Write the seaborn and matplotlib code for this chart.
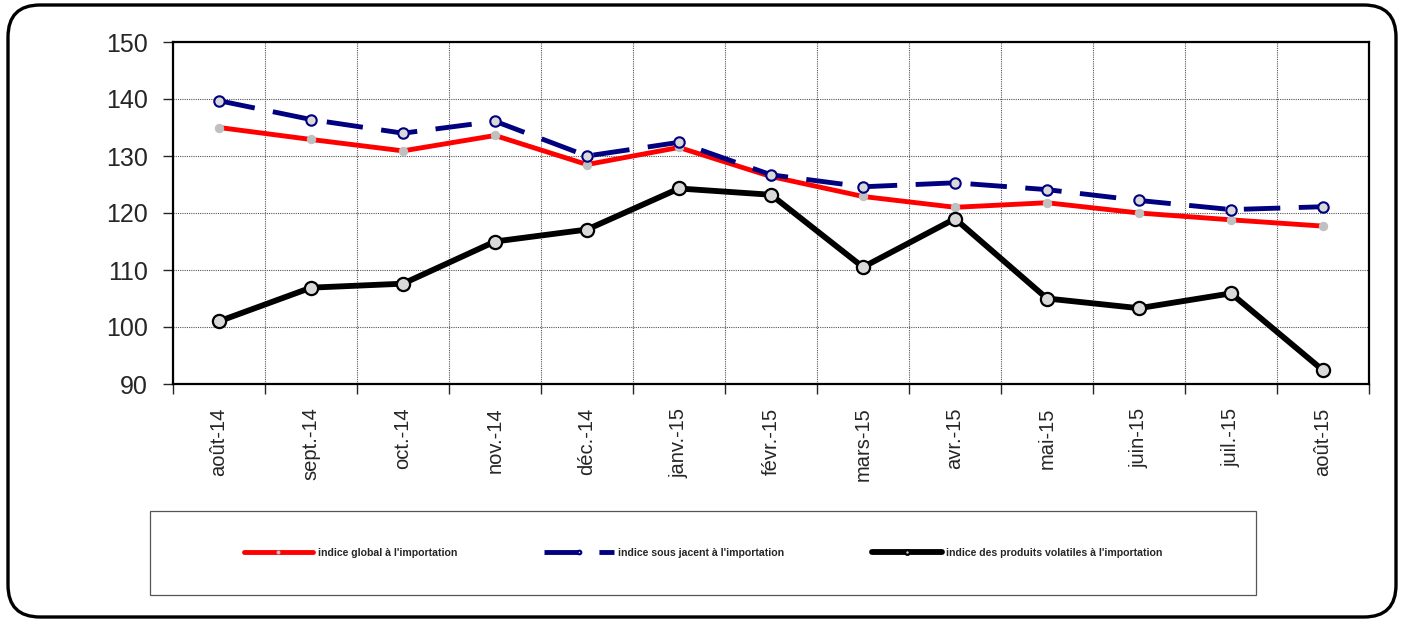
import numpy as np
import pandas as pd
import seaborn as sns
import matplotlib.pyplot as plt
from matplotlib.patches import FancyBboxPatch, Rectangle

# Data
months = ["août-14", "sept.-14", "oct.-14", "nov.-14", "déc.-14", "janv.-15", "févr.-15",
          "mars-15", "avr.-15", "mai-15", "juin-15", "juil.-15", "août-15"]
indice_global = [135.0, 132.9, 130.9, 133.6, 128.5, 131.5, 126.4, 122.9, 121.0, 121.8, 120.0, 118.8, 117.7]
indice_sous_jacent = [139.7, 136.4, 134.0, 136.1, 130.0, 132.4, 126.7, 124.6, 125.3, 124.1, 122.2, 120.6, 121.1]
indice_volatiles = [101.0, 106.9, 107.6, 115.0, 117.1, 124.3, 123.2, 110.5, 119.0, 105.0, 103.3, 105.9, 92.4]

labels = ["indice global à l'importation",
          "indice sous jacent à l'importation",
          "indice des produits volatiles à l'importation"]

df = pd.DataFrame({"x": np.arange(len(months)),
                   "global": indice_global,
                   "sous": indice_sous_jacent,
                   "vol": indice_volatiles})

sns.set_style("white")
plt.rcParams['font.family'] = ['Liberation Sans', 'DejaVu Sans']

W, H = 1403, 623
fig = plt.figure(figsize=(W / 100, H / 100), dpi=100)

# outer rounded frame
bg = fig.add_axes([0, 0, 1, 1], zorder=0)
bg.set_xlim(0, W)
bg.set_ylim(H, 0)
bg.axis("off")
bg.add_patch(FancyBboxPatch((8, 5), 1388, 612, boxstyle="round,pad=0,rounding_size=32",
                            fill=False, edgecolor="black", linewidth=2.4))
# legend box
bg.add_patch(Rectangle((150, 511), 1106, 84, fill=False, edgecolor="#555555", linewidth=0.9))

ax = fig.add_axes([173 / W, 1 - 384 / H, (1369 - 173) / W, (384 - 42) / H], zorder=1)
ax.patch.set_alpha(0)

sns.lineplot(data=df, x="x", y="global", ax=ax, color="red", linewidth=3.5,
             marker="o", markersize=6, markerfacecolor="#c0c0c0", markeredgecolor="#c0c0c0",
             label=labels[0], sort=False, zorder=3)
sns.lineplot(data=df, x="x", y="sous", ax=ax, color="#000080", linewidth=3.5,
             dashes=False, marker="o", markersize=7.5, markerfacecolor="#d9d9d9",
             markeredgecolor="#000080", markeredgewidth=1.5, label=labels[1], sort=False, zorder=4)
ax.lines[-1].set_dashes([7.5, 3.8])
sns.lineplot(data=df, x="x", y="vol", ax=ax, color="black", linewidth=4.2,
             marker="o", markersize=9.5, markerfacecolor="#d9d9d9", markeredgecolor="black",
             markeredgewidth=1.6, label=labels[2], sort=False, zorder=5)

ax.set_xlim(-0.5, len(months) - 0.5)
ax.set_ylim(90, 150)
ax.set_yticks(np.arange(90, 151, 10))
ax.set_xticks(np.arange(len(months)))
ax.set_xticks(np.arange(len(months) + 1) - 0.5, minor=True)
ax.set_xticklabels(months, rotation=90, fontsize=14.5)
ax.tick_params(axis="y", labelsize=18, length=7, width=1, direction="out", pad=11, left=True)
ax.tick_params(axis="x", which="major", length=0, pad=17)
ax.tick_params(axis="x", which="minor", length=7, width=1, direction="out", bottom=True)
ax.set_xlabel("")
ax.set_ylabel("")

ax.grid(axis="y", which="major", linestyle=(0, (1, 1)), color="#555555", linewidth=0.8)
ax.grid(axis="x", which="minor", linestyle=(0, (1, 1)), color="#555555", linewidth=0.8)
for s in ax.spines.values():
    s.set_color("black")
    s.set_linewidth(1.6)

handles, labs = ax.get_legend_handles_labels()
ax.get_legend().remove()
fig.legend(handles, labs, loc="center", ncol=3,
           bbox_to_anchor=((150 + 553) / W, 1 - 553 / H),
           frameon=False, prop={"size": 7.6, "weight": "bold"}, markerscale=0.35,
           handlelength=6.6, handletextpad=0.4, borderaxespad=0, columnspacing=8.3)

fig.savefig("out.png", dpi=100)
